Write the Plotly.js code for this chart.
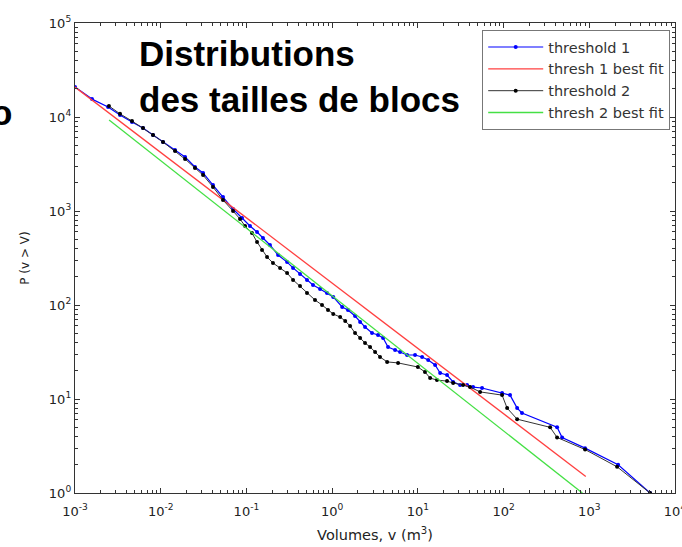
<!DOCTYPE html>
<html>
<head>
<meta charset="utf-8">
<script src="https://cdn.plot.ly/plotly-3.0.1.min.js"></script>
<style>html,body{margin:0;padding:0;background:#fff;}#chart{width:682px;height:547px;}</style>
</head>
<body>
<div id="chart"></div>
<script>
// threshold 1 (blue) empirical distribution
var thr1X = [0.001,0.00158,0.00243,0.00335,0.00462,0.00621,0.00813,0.01064,0.01469,0.01923,0.0251,0.0312,0.0407,0.0533,0.0698,0.0889,0.110,0.133,0.156,0.188,0.234,0.298,0.350,0.422,0.509,0.598,0.723,0.871,1.03,1.31,1.53,1.85,2.12,2.42,2.92,3.43,3.93,4.49,5.42,6.20,7.48,9.27,11.2,13.2,15.9,18.2,21.9,25.8,31.1,37.5,44.1,56.1,96.1,119,144,164,421,482,893,2170,5120];
var thr1Y = [20800,15500,12800,10500,8860,7640,6440,5420,4460,3750,2940,2540,1890,1410,1050,843,692,598,516,435,340,286,248,214,185,163,148,134,122,95.3,88.5,76.4,65.9,58.3,50.4,48.0,44.6,35.8,33.2,31.6,29.4,29.4,28.0,26.0,23.0,18.9,18.0,15.2,14.1,14.1,13.4,13.1,11.6,11.0,8.0,7.1,5.0,3.9,3.0,2.0,1.0];

// threshold 2 (black) empirical distribution
var thr2X = [0.00249,0.00335,0.00462,0.00621,0.00813,0.01064,0.01469,0.01923,0.0251,0.0312,0.0407,0.0533,0.0698,0.0842,0.0964,0.116,0.133,0.152,0.174,0.204,0.247,0.298,0.350,0.422,0.509,0.631,0.762,0.895,1.03,1.24,1.42,1.62,1.85,2.12,2.42,2.77,3.17,3.62,4.38,5.88,10.0,12.1,13.9,16.7,21.9,25.8,33.7,40.6,53.2,96.1,110,144,349,421,893,2110,5120];
var thr2Y = [13100,10800,9060,7640,6440,5420,4350,3570,2870,2410,1800,1310,1000,822,692,583,468,385,324,280,248,219,185,159,134,113,100,88.5,80.2,74.5,67.6,59.8,50.4,44.6,39.4,35.8,31.6,28.0,24.8,24.2,21.9,19.4,16.7,15.9,15.5,14.8,14.1,13.4,11.9,11.0,8.0,6.1,5.0,3.9,2.9,1.9,1.0];

// best fit lines (end points)
var fit1X = [0.001, 910];
var fit1Y = [20800, 1.5];
var fit2X = [0.0025, 830];
var fit2Y = [9290, 1.0];

var names = ['threshold 1', 'thresh 1 best fit', 'threshold 2', 'thresh 2 best fit'];
var xTickVals = [0.001, 0.01, 0.1, 1, 10, 100, 1000, 10000];
var xTickText = ['10<sup>-3</sup>','10<sup>-2</sup>','10<sup>-1</sup>','10<sup>0</sup>','10<sup>1</sup>','10<sup>2</sup>','10<sup>3</sup>','10<sup>4</sup>'];
var yTickVals = [1, 10, 100, 1000, 10000, 100000];
var yTickText = ['10<sup>0</sup>','10<sup>1</sup>','10<sup>2</sup>','10<sup>3</sup>','10<sup>4</sup>','10<sup>5</sup>'];

function minorVals(lo, hi) {
  var v = [];
  for (var e = lo; e < hi; e++) {
    for (var m = 2; m <= 9; m++) v.push(m * Math.pow(10, e));
  }
  return v;
}

var FONT = 'DejaVu Sans, Verdana, sans-serif';

var traces = [
  {x: thr1X, y: thr1Y, name: names[0], type: 'scatter', mode: 'lines+markers',
   line: {color: '#0000ff', width: 1.2}, marker: {color: '#0000ff', size: 4}},
  {x: fit1X, y: fit1Y, name: names[1], type: 'scatter', mode: 'lines',
   line: {color: '#ff4040', width: 1.3}},
  {x: thr2X, y: thr2Y, name: names[2], type: 'scatter', mode: 'lines+markers',
   line: {color: '#333333', width: 1}, marker: {color: '#000000', size: 4}},
  {x: fit2X, y: fit2Y, name: names[3], type: 'scatter', mode: 'lines',
   line: {color: '#44e044', width: 1.3}}
];

var axisFont = {family: FONT, size: 13, color: '#222'};

var layout = {
  width: 682, height: 547,
  margin: {l: 75, r: 7, t: 23, b: 54},
  paper_bgcolor: '#fff', plot_bgcolor: '#fff',
  font: {family: FONT, color: '#222'},
  showlegend: true,
  legend: {x: 0.992, y: 0.985, xanchor: 'right', yanchor: 'top',
    bgcolor: '#fff', bordercolor: '#777', borderwidth: 1,
    font: {family: FONT, size: 14.5, color: '#333'},
    itemwidth: 55, tracegroupgap: 0},
  xaxis: {type: 'log', range: [-3, 4], tickvals: xTickVals, ticktext: xTickText,
    ticks: 'inside', ticklen: 5, tickcolor: '#333', showline: true, linecolor: '#333', linewidth: 1.2,
    mirror: 'ticks', showgrid: false, zeroline: false, tickfont: axisFont,
    ticklabelstandoff: 6, ticklabeloverflow: 'allow',
    minor: {tickvals: minorVals(-3, 4), ticks: 'inside', ticklen: 3, tickcolor: '#333', showgrid: false},
    title: {text: 'Volumes, v (m<sup>3</sup>)', font: {family: FONT, size: 14.5, color: '#222'}, standoff: 12}},
  yaxis: {type: 'log', range: [0, 5], tickvals: yTickVals, ticktext: yTickText,
    ticks: 'inside', ticklen: 5, tickcolor: '#333', showline: true, linecolor: '#333', linewidth: 1.2,
    mirror: 'ticks', showgrid: false, zeroline: false, tickfont: axisFont,
    ticklabeloverflow: 'allow',
    minor: {tickvals: minorVals(0, 5), ticks: 'inside', ticklen: 3, tickcolor: '#333', showgrid: false},
    title: {text: 'P (v &gt; V)', font: {family: FONT, size: 12, color: '#222'}, standoff: 16}},
  annotations: [
    {xref: 'paper', yref: 'paper', x: 0.1033, y: 0.886, xanchor: 'left', yanchor: 'middle',
     align: 'left', showarrow: false,
     text: '<b>Distributions<br>des tailles de blocs</b>',
     font: {family: 'Liberation Sans, Arial, sans-serif', size: 35, color: '#000'}},
    {xref: 'paper', yref: 'paper', x: -0.1233, y: 0.81, xanchor: 'center', yanchor: 'middle',
     showarrow: false, text: '<b>o</b>',
     font: {family: 'Liberation Sans, Arial, sans-serif', size: 35, color: '#000'}}
  ]
};

Plotly.newPlot('chart', traces, layout, {displayModeBar: false, staticPlot: true});
</script>
</body>
</html>
